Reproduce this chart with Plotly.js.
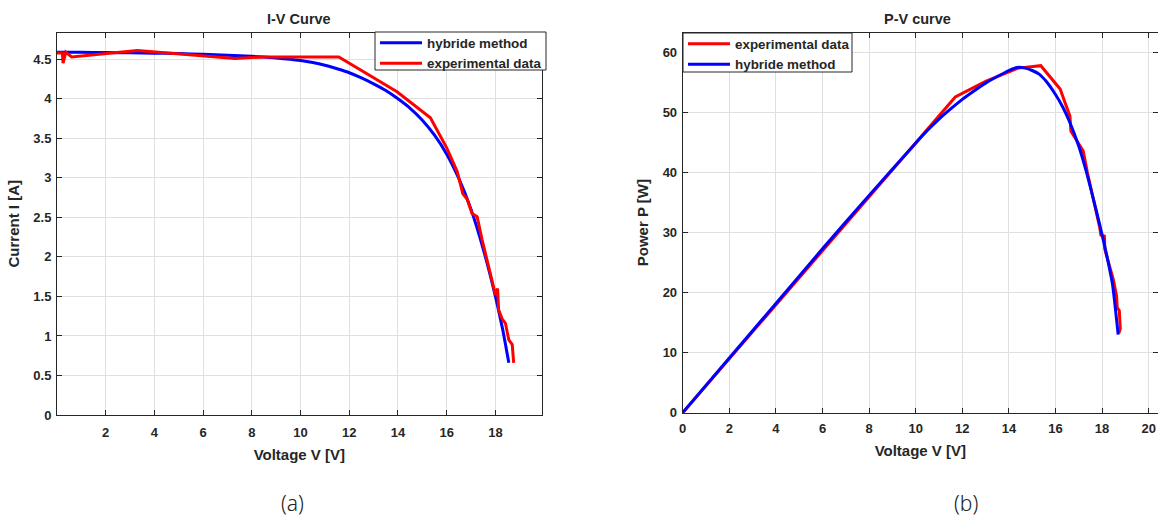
<!DOCTYPE html>
<html>
<head>
<meta charset="utf-8">
<script src="https://cdn.plot.ly/plotly-3.0.1.min.js"></script>
<style>html,body{margin:0;padding:0;background:#fff;}#chart{width:1158px;height:517px;}</style>
</head>
<body>
<div id="chart"></div>
<script>
// I-V curve, hybrid method
const ivHybV = [0, 1, 2, 3, 4, 5, 6, 7, 8, 9, 10, 10.5, 11, 11.5, 12, 12.5, 13, 13.5, 14, 14.5, 15, 15.5, 16, 16.5, 17, 17.5, 18, 18.3, 18.55];
const ivHybI = [4.59, 4.588, 4.585, 4.582, 4.578, 4.572, 4.563, 4.552, 4.538, 4.517, 4.485, 4.46, 4.425, 4.38, 4.33, 4.265, 4.19, 4.105, 4.00, 3.88, 3.73, 3.54, 3.30, 2.99, 2.60, 2.10, 1.50, 1.08, 0.66];
// I-V curve, experimental data
const ivExpV = [0, 0.22, 0.25, 0.36, 0.6, 3.3, 7.3, 8.5, 11.57, 13.96, 15.33, 16.0, 16.43, 16.66, 16.84, 17.04, 17.25, 17.45, 17.79, 18.0, 18.09, 18.13, 18.27, 18.41, 18.55, 18.69, 18.75];
const ivExpI = [4.58, 4.58, 4.45, 4.59, 4.53, 4.61, 4.51, 4.53, 4.53, 4.09, 3.76, 3.38, 3.08, 2.80, 2.73, 2.55, 2.51, 2.22, 1.79, 1.52, 1.60, 1.33, 1.22, 1.16, 0.95, 0.89, 0.66];
// P-V curve, experimental data
const pvExpV = [0, 2, 4, 6, 8, 10, 11.7, 13, 14.4, 15.37, 16.2, 16.62, 16.66, 17.19, 17.22, 17.37, 17.9, 17.95, 18.1, 18.12, 18.48, 18.62, 18.65, 18.74, 18.78, 18.72];
const pvExpP = [0, 9.0, 18.0, 27.0, 36.0, 45.0, 52.6, 55.2, 57.4, 57.8, 53.9, 49.4, 46.9, 43.6, 43.0, 40.0, 30.8, 29.6, 29.4, 27.2, 22.2, 19.5, 17.5, 17.0, 14.0, 13.2];
// P-V curve, hybrid method
const pvHybV = [0, 2, 4, 6, 8, 10, 10.5, 11, 11.5, 12, 12.5, 13, 13.5, 14, 14.35, 14.7, 15, 15.3, 15.6, 16, 16.3, 16.6, 17, 17.3, 17.6, 17.9, 18.2, 18.45, 18.69];
const pvHybP = [0, 9.1, 18.2, 27.3, 36.2, 44.9, 47.0, 48.9, 50.6, 52.2, 53.6, 54.9, 56.0, 57.0, 57.5, 57.4, 57.0, 56.4, 55.2, 53.0, 51.0, 48.5, 44.4, 40.5, 36.0, 31.3, 26.2, 21.3, 13.0];

const ivTicks = [0, 0.5, 1, 1.5, 2, 2.5, 3, 3.5, 4, 4.5];
const ivTickText = ['0', '0.5', '1', '1.5', '2', '2.5', '3', '3.5', '4', '4.5'];
const ivXTicks = [2, 4, 6, 8, 10, 12, 14, 16, 18];
const pvXTicks = [0, 2, 4, 6, 8, 10, 12, 14, 16, 18, 20];
const pvYTicks = [0, 10, 20, 30, 40, 50, 60];

const W = 1158, H = 517;
const AX = '#262626';
const FAM = 'Liberation Sans, Arial, sans-serif';
const tickFont = {family: FAM, size: 13, color: AX, weight: 'bold'};
const titleFont = {family: FAM, size: 15, color: AX, weight: 'bold'};

function axisBase() {
  return {
    showgrid: true, gridcolor: '#dfdfdf', gridwidth: 1,
    showline: true, linecolor: AX, linewidth: 1, mirror: 'ticks',
    ticks: 'inside', ticklen: 5, tickcolor: AX, tickwidth: 1,
    zeroline: false, tickfont: tickFont, fixedrange: true
  };
}

const traces = [
  {x: ivHybV, y: ivHybI, type: 'scatter', mode: 'lines', name: 'hybride method',
   line: {color: '#0000ff', width: 3, shape: 'spline', smoothing: 0.5}, xaxis: 'x', yaxis: 'y', legend: 'legend'},
  {x: ivExpV, y: ivExpI, type: 'scatter', mode: 'lines', name: 'experimental data',
   line: {color: '#ff0000', width: 3}, xaxis: 'x', yaxis: 'y', legend: 'legend'},
  {x: pvExpV, y: pvExpP, type: 'scatter', mode: 'lines', name: 'experimental data',
   line: {color: '#ff0000', width: 3}, xaxis: 'x2', yaxis: 'y2', legend: 'legend2'},
  {x: pvHybV, y: pvHybP, type: 'scatter', mode: 'lines', name: 'hybride method',
   line: {color: '#0000ff', width: 3, shape: 'spline', smoothing: 0.5}, xaxis: 'x2', yaxis: 'y2', legend: 'legend2'}
];

const legendBase = {
  xanchor: 'left', yanchor: 'top', bgcolor: 'rgba(0,0,0,0)', borderwidth: 0,
  font: {family: FAM, size: 13.4, color: AX, weight: 'bold'},
  traceorder: 'normal', itemwidth: 42, tracegroupgap: 0
};

function box(x0, y0, x1, y1) {
  return {type: 'rect', xref: 'paper', yref: 'paper', layer: 'above',
    x0: x0 / W, x1: x1 / W, y0: (H - y1) / H, y1: (H - y0) / H,
    fillcolor: '#ffffff', line: {color: AX, width: 1}};
}

const layout = {
  width: W, height: H,
  margin: {l: 0, r: 0, t: 0, b: 0},
  paper_bgcolor: '#ffffff', plot_bgcolor: '#ffffff',
  showlegend: true,
  xaxis: Object.assign(axisBase(), {
    domain: [57 / W, 541.7 / W], range: [0, 19.9], tickvals: ivXTicks, anchor: 'y', ticklabelstandoff: 5,
    title: {text: 'Voltage V [V]', font: titleFont, standoff: 10}
  }),
  yaxis: Object.assign(axisBase(), {
    domain: [(H - 415) / H, (H - 32.5) / H], range: [0, 4.839], tickvals: ivTicks, ticktext: ivTickText, anchor: 'x', ticklabelstandoff: 2,
    title: {text: 'Current I [A]', font: titleFont, standoff: 10}
  }),
  xaxis2: Object.assign(axisBase(), {
    domain: [682.7 / W, 1], range: [0, 20.4], tickvals: pvXTicks, anchor: 'y2', ticklabelstandoff: 4,
    title: {text: 'Voltage V [V]', font: titleFont, standoff: 10}
  }),
  yaxis2: Object.assign(axisBase(), {
    domain: [(H - 412.7) / H, (H - 32.5) / H], range: [0, 63.33], tickvals: pvYTicks, anchor: 'x2', ticklabelstandoff: 2,
    title: {text: 'Power P [W]', font: titleFont, standoff: 10}
  }),
  legend: Object.assign({}, legendBase, {x: 375 / W, y: (H - 27.5) / H}),
  legend2: Object.assign({}, legendBase, {x: 683 / W, y: (H - 28.5) / H}),
  shapes: [box(375, 32, 546, 70), box(683, 33, 852, 72)],
  annotations: [
    {text: 'I-V Curve', x: 299 / W, y: (H - 19) / H, xref: 'paper', yref: 'paper', showarrow: false,
     xanchor: 'center', yanchor: 'middle', font: {family: FAM, size: 14.5, color: AX, weight: 'bold'}},
    {text: 'P-V curve', x: 917 / W, y: (H - 19) / H, xref: 'paper', yref: 'paper', showarrow: false,
     xanchor: 'center', yanchor: 'middle', font: {family: FAM, size: 14.5, color: AX, weight: 'bold'}},
    {text: '(a)', x: 292 / W, y: (H - 503) / H, xref: 'paper', yref: 'paper', showarrow: false,
     xanchor: 'center', yanchor: 'middle', font: {family: 'Noto Sans, sans-serif', size: 21, color: '#222222', weight: 300}},
    {text: '(b)', x: 966 / W, y: (H - 503) / H, xref: 'paper', yref: 'paper', showarrow: false,
     xanchor: 'center', yanchor: 'middle', font: {family: 'Noto Sans, sans-serif', size: 21, color: '#222222', weight: 300}}
  ]
};

Plotly.newPlot('chart', traces, layout, {displayModeBar: false, staticPlot: true});
</script>
</body>
</html>
